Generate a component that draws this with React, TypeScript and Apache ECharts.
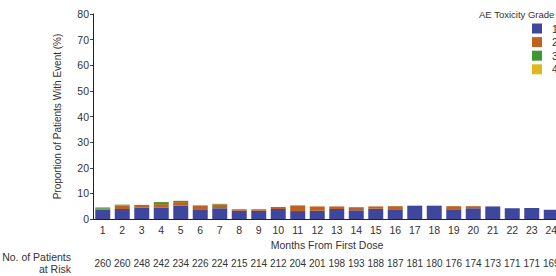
import React, { useEffect, useRef } from "react";
import * as echarts from "echarts";

const months = ["1","2","3","4","5","6","7","8","9","10","11","12","13","14","15","16","17","18","19","20","21","22","23","24"];
const grade1 = [3.6, 3.9, 4.5, 4.5, 5.3, 3.8, 4.2, 3.2, 3.2, 3.9, 3.1, 3.2, 3.9, 3.4, 4.0, 3.8, 5.2, 5.2, 3.8, 4.2, 4.9, 4.2, 4.3, 3.6];
const grade2 = [0.4, 1.4, 1.0, 1.3, 1.3, 1.5, 1.5, 0.6, 0.6, 0.8, 2.2, 1.7, 1.0, 1.2, 0.9, 1.2, 0, 0, 1.2, 0.8, 0, 0, 0, 0];
const grade3 = [0.5, 0.3, 0, 0.8, 0.5, 0, 0.2, 0, 0, 0, 0, 0, 0, 0, 0, 0, 0, 0, 0, 0, 0, 0, 0, 0];
const grade4 = [0, 0, 0, 0, 0, 0, 0, 0, 0, 0, 0, 0, 0, 0, 0, 0, 0, 0, 0, 0, 0, 0, 0, 0];
const atRisk = ["260","260","248","242","234","226","224","215","214","212","204","201","198","193","188","187","181","180","176","174","173","171","171","169"];
const gradeNames = ["1", "2", "3", "4"];
const gradeColors = ["#3f479c", "#c0621f", "#3f982f", "#e0b81b"];
const yTicks = { min: 0, max: 80, interval: 10 };

const FONT = "'Liberation Sans', Arial, Helvetica, sans-serif";
const TXT = "#333333";
const FS = 10.5;

export default function App() {
  const ref = useRef<HTMLDivElement>(null);
  useEffect(() => {
    if (!ref.current) return;
    const chart = echarts.init(ref.current, undefined, { renderer: "svg" });
    const seriesData = [grade1, grade2, grade3, grade4];
    chart.setOption({
      animation: false,
      textStyle: { fontFamily: FONT },
      grid: { left: 93, right: 19, top: 14, bottom: 57 },
      legend: {
        orient: "vertical",
        left: 532,
        top: 23,
        icon: "rect",
        itemWidth: 10,
        itemHeight: 10,
        itemGap: 2.6,
        padding: 0,
        data: gradeNames,
        textStyle: { fontSize: FS, color: TXT, fontFamily: FONT, padding: [0, 0, 0, 5] },
        itemStyle: { borderWidth: 0 },
      },
      xAxis: [
        {
          type: "category",
          data: months,
          name: "Months From First Dose",
          nameLocation: "middle",
          nameGap: 25,
          nameTextStyle: { fontSize: FS, color: TXT, fontFamily: FONT, verticalAlign: "middle" },
          axisLine: { lineStyle: { color: "#222", width: 1 } },
          axisTick: { show: false },
          axisLabel: { interval: 0, fontSize: FS, color: TXT, margin: 5 },
        },
        {
          type: "category",
          data: atRisk,
          position: "bottom",
          offset: 31,
          axisLine: { show: false },
          axisTick: { show: false },
          axisLabel: { interval: 0, fontSize: 10, color: TXT, margin: 8 },
        },
      ],
      yAxis: {
        type: "value",
        min: yTicks.min,
        max: yTicks.max,
        interval: yTicks.interval,
        name: "Proportion of Patients With Event (%)",
        nameLocation: "middle",
        nameGap: 31,
        nameTextStyle: { fontSize: 10, color: TXT, fontFamily: FONT },
        splitLine: { show: false },
        axisLine: { show: true, lineStyle: { color: "#222", width: 1 } },
        axisTick: { show: true, length: 3, lineStyle: { color: "#444" } },
        axisLabel: { fontSize: FS, color: TXT, margin: 4 },
      },
      series: gradeNames.map((n, i) => ({
        name: n,
        type: "bar",
        stack: "ae",
        xAxisIndex: 0,
        barWidth: 15,
        data: seriesData[i],
        itemStyle: { color: gradeColors[i] },
      })),
      graphic: [
        {
          type: "text",
          x: 479,
          y: 14,
          style: { text: "AE Toxicity Grade", fontSize: 9.5, fill: TXT, fontFamily: FONT, align: "left", verticalAlign: "middle" },
        },
        {
          type: "text",
          x: 71,
          y: 257,
          style: { text: "No. of Patients", fontSize: FS, fill: TXT, fontFamily: FONT, align: "right", verticalAlign: "middle" },
        },
        {
          type: "text",
          x: 71,
          y: 269,
          style: { text: "at Risk", fontSize: FS, fill: TXT, fontFamily: FONT, align: "right", verticalAlign: "middle" },
        },
      ],
    });
    return () => chart.dispose();
  }, []);
  return (
    <div style={{ position: "fixed", left: 0, top: 0, width: 556, height: 276, overflow: "hidden", background: "#fff" }}>
      <div ref={ref} style={{ width: 580, height: 276 }} />
    </div>
  );
}
